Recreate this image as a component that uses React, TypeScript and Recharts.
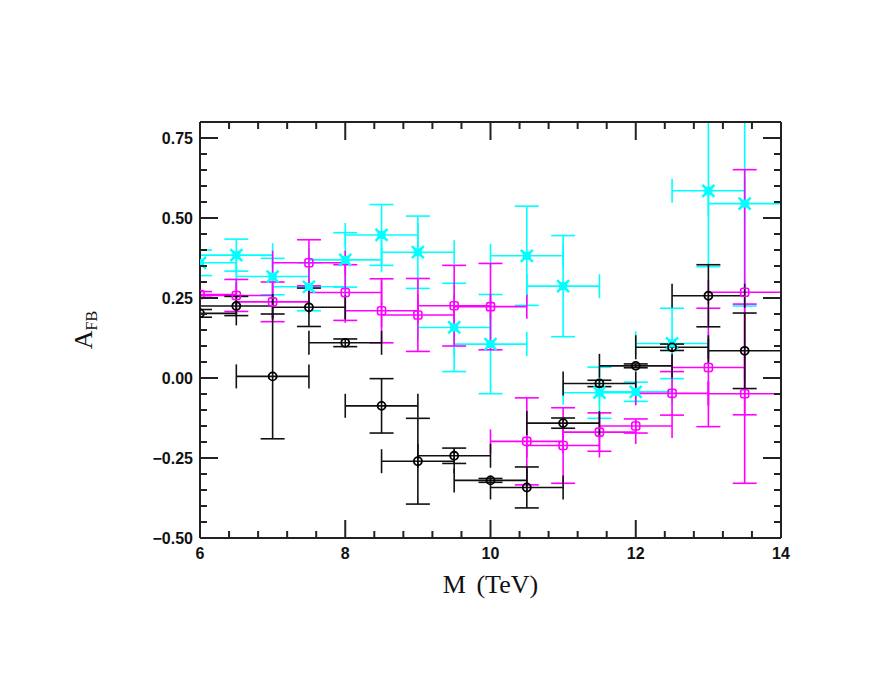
import { ErrorBar, Label, Scatter, ScatterChart, XAxis, YAxis } from "recharts"

// bin centres (TeV), every bin is 1 TeV wide
const binCentres = [6, 6.5, 7, 7.5, 8, 8.5, 9, 9.5, 10, 10.5, 11, 11.5, 12, 12.5, 13, 13.5]
const binHalfWidth = 0.5

const blackY = [0.202, 0.225, 0.005, 0.221, 0.11, -0.087, -0.26, -0.243, -0.32, -0.342, -0.141, -0.017, 0.038, 0.096, 0.257, 0.085]
const blackErr = [0.012, 0.03, 0.195, 0.06, 0.012, 0.085, 0.134, 0.024, 0.006, 0.064, 0.016, 0.01, 0.006, 0.01, 0.097, 0.118]

const magentaX = [6, 6.5, 7, 7.5, 8, 8.5, 9, 9.5, 10, 10.5, 11, 11.5, 12, 12.5, 13, 13.5, 13.5]
const magentaY = [0.261, 0.258, 0.238, 0.36, 0.267, 0.21, 0.197, 0.226, 0.223, -0.198, -0.211, -0.169, -0.15, -0.048, 0.033, 0.268, -0.049]
const magentaErr = [0.009, 0.05, 0.062, 0.072, 0.087, 0.1, 0.114, 0.126, 0.135, 0.136, 0.118, 0.06, 0.022, 0.068, 0.185, 0.383, 0.28]

const cyanY = [0.36, 0.384, 0.317, 0.285, 0.369, 0.447, 0.393, 0.158, 0.106, 0.382, 0.287, -0.046, -0.043, 0.108, 0.585, 0.545]
const cyanErr = [0.04, 0.05, 0.057, 0.075, 0.085, 0.095, 0.113, 0.138, 0.155, 0.155, 0.158, 0.08, 0.03, 0.11, 0.237, 0.32]

const xMajor = [6, 8, 10, 12, 14]
const yMajor = [-0.5, -0.25, 0, 0.25, 0.5, 0.75]

const X_MIN = 6
const X_MAX = 14
const Y_MIN = -0.5
const Y_MAX = 0.8

const steps = (from: number, to: number, step: number) => {
  const out: number[] = []
  for (let v = from; v <= to + 1e-9; v += step) out.push(Math.round(v * 1000) / 1000)
  return out
}
const xTicks = steps(X_MIN, X_MAX, 0.4)
const yTicks = steps(Y_MIN, 0.75, 0.05)

const toRows = (xs: number[], ys: number[], errs: number[]) =>
  xs.map((x, i) => ({ x, y: ys[i], ey: errs[i], ex: binHalfWidth }))

const blackRows = toRows(binCentres, blackY, blackErr)
const magentaRows = toRows(magentaX, magentaY, magentaErr)
const cyanRows = toRows(binCentres, cyanY, cyanErr)

// chart box
const W = 880
const H = 676
const M = { top: 104, right: 97, bottom: 116, left: 132 }
const LEFT_AXIS_W = 60
const RIGHT_AXIS_W = 10
const TOP_AXIS_H = 10
const BOTTOM_AXIS_H = 30
const plotX = M.left + LEFT_AXIS_W
const plotY = M.top + TOP_AXIS_H
const plotW = W - plotX - M.right - RIGHT_AXIS_W
const plotH = H - plotY - M.bottom - BOTTOM_AXIS_H

const AXIS = "#222"
const TICK_FONT = "'Liberation Sans', Arial, sans-serif"
const TITLE_FONT = "'Liberation Serif', 'Times New Roman', serif"
const CLIP = "url(#afb-plot-clip)"

const isMajorX = (v: number) => xMajor.some((m) => Math.abs(m - v) < 1e-6)
const isMajorY = (v: number) => yMajor.some((m) => Math.abs(m - v) < 1e-6)

const fmtY = (v: number) => (v < 0 ? "\u2212" + Math.abs(v).toFixed(2) : v.toFixed(2))

function XTick(props: any) {
  const { x, y, payload, side } = props
  const major = isMajorX(payload.value)
  const len = major ? 18 : 7
  const dir = side === "top" ? 1 : -1
  return (
    <g>
      <line x1={x} x2={x} y1={y} y2={y + dir * len} stroke={AXIS} strokeWidth={2} />
      {side === "bottom" && major && (
        <text x={x} y={y + 21} textAnchor="middle" fontFamily={TICK_FONT} fontWeight="bold" fontSize={16} fill="#111">
          {payload.value}
        </text>
      )}
    </g>
  )
}

function YTick(props: any) {
  const { x, y, payload, side } = props
  const major = isMajorY(payload.value)
  const len = major ? 18 : 7
  const dir = side === "left" ? 1 : -1
  return (
    <g>
      <line x1={x} x2={x + dir * len} y1={y} y2={y} stroke={AXIS} strokeWidth={2} />
      {side === "left" && major && (
        <text x={x - 7} y={y} dy="0.36em" textAnchor="end" fontFamily={TICK_FONT} fontWeight="bold" fontSize={16} fill="#111">
          {fmtY(payload.value)}
        </text>
      )}
    </g>
  )
}

function OpenCircle(props: any) {
  const { cx, cy } = props
  return <circle cx={cx} cy={cy} r={4} fill="none" stroke="#000" strokeWidth={1.8} />
}

function OpenSquare(props: any) {
  const { cx, cy } = props
  return <rect x={cx - 4} y={cy - 4} width={8} height={8} rx={2} fill="none" stroke="#ff00ff" strokeWidth={1.6} />
}

function Star(props: any) {
  const { cx, cy } = props
  return (
    <g>
      <rect x={cx - 4} y={cy - 4} width={8} height={8} fill="#00ffff" />
      <path d={`M${cx - 6},${cy - 6}L${cx + 6},${cy + 6}M${cx - 6},${cy + 6}L${cx + 6},${cy - 6}`} stroke="#00ffff" strokeWidth={2.5} />
    </g>
  )
}

export default function App() {
  return (
    <ScatterChart width={W} height={H} margin={M}>
      <defs>
        <clipPath id="afb-plot-clip">
          <rect x={plotX} y={plotY} width={plotW} height={plotH} />
        </clipPath>
      </defs>
      <XAxis
        xAxisId="bottom"
        type="number"
        dataKey="x"
        domain={[X_MIN, X_MAX]}
        ticks={xTicks}
        interval={0}
        allowDataOverflow
        height={BOTTOM_AXIS_H}
        tickSize={0}
        tickMargin={0}
        axisLine={{ stroke: AXIS, strokeWidth: 2 }}
        tick={(p: any) => <XTick {...p} side="bottom" />}
      >
        <Label
          content={(p: any) => {
            const vb = p.viewBox
            return (
              <text x={vb.x + vb.width / 2} y={vb.y + 55} textAnchor="middle" fontFamily={TITLE_FONT} fontSize={26} wordSpacing={4} fill="#111">
                M (TeV)
              </text>
            )
          }}
        />
      </XAxis>
      <XAxis
        xAxisId="top"
        orientation="top"
        type="number"
        dataKey="x"
        domain={[X_MIN, X_MAX]}
        ticks={xTicks}
        interval={0}
        allowDataOverflow
        height={TOP_AXIS_H}
        tickSize={0}
        tickMargin={0}
        axisLine={{ stroke: AXIS, strokeWidth: 2 }}
        tick={(p: any) => <XTick {...p} side="top" />}
      />
      <YAxis
        yAxisId="left"
        type="number"
        dataKey="y"
        domain={[Y_MIN, Y_MAX]}
        ticks={yTicks}
        interval={0}
        allowDataOverflow
        width={LEFT_AXIS_W}
        tickSize={0}
        tickMargin={0}
        axisLine={{ stroke: AXIS, strokeWidth: 2 }}
        tick={(p: any) => <YTick {...p} side="left" />}
      >
        <Label
          content={(p: any) => {
            const vb = p.viewBox
            const cx = vb.x - 48
            const cy = vb.y + vb.height / 2
            return (
              <text x={cx} y={cy} textAnchor="middle" transform={`rotate(-90, ${cx}, ${cy})`} fontFamily={TITLE_FONT} fontSize={26} fill="#111">
                A<tspan fontSize={16} dy={5}>FB</tspan>
              </text>
            )
          }}
        />
      </YAxis>
      <YAxis
        yAxisId="right"
        orientation="right"
        type="number"
        dataKey="y"
        domain={[Y_MIN, Y_MAX]}
        ticks={yTicks}
        interval={0}
        allowDataOverflow
        width={RIGHT_AXIS_W}
        tickSize={0}
        tickMargin={0}
        axisLine={{ stroke: AXIS, strokeWidth: 2 }}
        tick={(p: any) => <YTick {...p} side="right" />}
      />

      <Scatter data={cyanRows} xAxisId="bottom" yAxisId="left" shape={<Star />} isAnimationActive={false}>
        <ErrorBar dataKey="ey" direction="y" width={12} stroke="#00ffff" strokeWidth={1.6} clipPath={CLIP} isAnimationActive={false} />
        <ErrorBar dataKey="ex" direction="x" width={12} stroke="#00ffff" strokeWidth={1.6} clipPath={CLIP} isAnimationActive={false} />
      </Scatter>
      <Scatter data={magentaRows} xAxisId="bottom" yAxisId="left" shape={<OpenSquare />} isAnimationActive={false}>
        <ErrorBar dataKey="ey" direction="y" width={12} stroke="#ff00ff" strokeWidth={1.6} clipPath={CLIP} isAnimationActive={false} />
        <ErrorBar dataKey="ex" direction="x" width={12} stroke="#ff00ff" strokeWidth={1.6} clipPath={CLIP} isAnimationActive={false} />
      </Scatter>
      <Scatter data={blackRows} xAxisId="bottom" yAxisId="left" shape={<OpenCircle />} isAnimationActive={false}>
        <ErrorBar dataKey="ey" direction="y" width={12} stroke="#111" strokeWidth={1.6} clipPath={CLIP} isAnimationActive={false} />
        <ErrorBar dataKey="ex" direction="x" width={12} stroke="#111" strokeWidth={1.6} clipPath={CLIP} isAnimationActive={false} />
      </Scatter>
    </ScatterChart>
  )
}
